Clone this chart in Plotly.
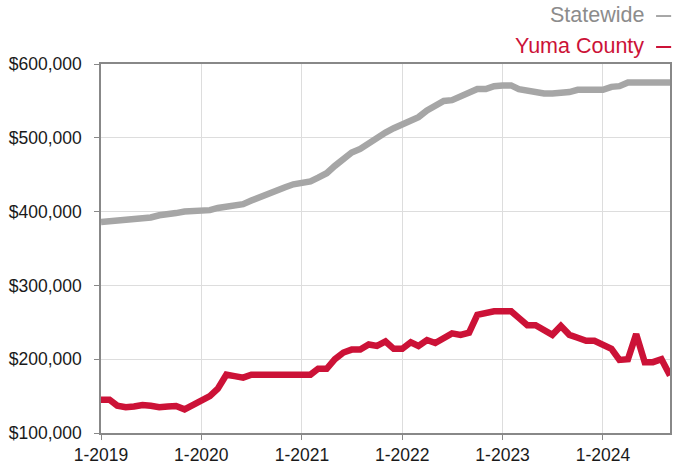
import plotly.graph_objects as go
import pandas as pd

dates = pd.date_range("2019-01-01", "2024-09-01", freq="MS")

statewide = [386, 387, 388, 389, 390, 390.5, 392, 395, 395.5, 398, 400, 400,
             400, 402, 405, 407, 407, 410, 415, 420, 425, 430, 433, 437,
             440, 441, 446, 452, 462, 472, 480, 485, 493, 501, 507, 513,
             518, 522, 528, 537, 543, 550, 551, 556, 561, 566, 566, 570,
             571, 571, 566, 564, 560, 560, 560, 560, 562, 565, 565, 565,
             565, 569, 570, 575, 575, 575, 575, 575, 575]
statewide = [v * 1000 for v in statewide]

yuma = [145, 145, 137, 135, 136, 138, 137, 135, 136, 136.5, 132, 138,
        146, 150, 160, 179, 177, 175, 179, 179, 179, 179, 179, 179,
        179, 179, 187, 187, 200, 209, 213, 213, 220, 218, 224, 214,
        214, 223, 218, 226, 222, 229, 235, 233, 236, 260, 263, 265,
        265, 265, 256, 246, 246, 240, 233, 245, 233, 229, 225, 225,
        220, 214, 199, 200, 234, 196, 196, 200, 178]
yuma = [v * 1000 for v in yuma]

series_names = ["Statewide", "Yuma County"]
series_colors = ["#a6a6a6", "#cc1237"]
legend_text_colors = ["#8c8c8c", "#cc1237"]

fig = go.Figure()
for name, vals, col in zip(series_names, [statewide, yuma], series_colors):
    fig.add_trace(go.Scatter(x=dates, y=vals, mode="lines", name=name,
                             line=dict(color=col, width=6.5), showlegend=False))

# custom legend (text then dash on the right)
legend_y = [1.134, 1.050]
for name, tc, lc, ly in zip(series_names, legend_text_colors, series_colors, legend_y):
    fig.add_annotation(xref="paper", yref="paper", x=0.958, y=ly,
                       xanchor="right", yanchor="middle", showarrow=False,
                       text=name, font=dict(size=21.5, color=tc,
                                            family="Liberation Sans, Arial, sans-serif"))
    fig.add_shape(type="line", xref="paper", yref="paper",
                  x0=0.9755, x1=1.002, y0=ly - 0.004, y1=ly - 0.004,
                  line=dict(color=lc, width=2))

axis_font = dict(size=17.5, color="#1a1a1a", family="Liberation Sans, Arial, sans-serif")

fig.update_layout(
    width=673, height=466,
    margin=dict(l=101, r=1, t=64, b=32),
    plot_bgcolor="white", paper_bgcolor="white",
    font=axis_font,
)
fig.update_xaxes(
    type="date", range=["2019-01-01", "2024-09-01"],
    tick0="2019-01-01", dtick="M12", tickformat="%-m-%Y",
    ticks="outside", ticklen=5, tickcolor="#888888",
    showline=True, linecolor="#888888", linewidth=1.5, mirror=True,
    showgrid=True, gridcolor="#dddddd", gridwidth=1,
    tickfont=axis_font, zeroline=False,
)
fig.update_yaxes(
    range=[100000, 600000], dtick=100000, tickformat="$,.0f",
    ticks="outside", ticklen=5, tickcolor="#888888",
    showline=True, linecolor="#888888", linewidth=1.5, mirror=True,
    showgrid=True, gridcolor="#dddddd", gridwidth=1,
    tickfont=axis_font, zeroline=False, ticklabelstandoff=9,
)

fig.write_html(
    "out.html",
    config={"displayModeBar": False},
    post_script="document.body.style.margin='0';document.body.style.overflow='hidden';",
)
